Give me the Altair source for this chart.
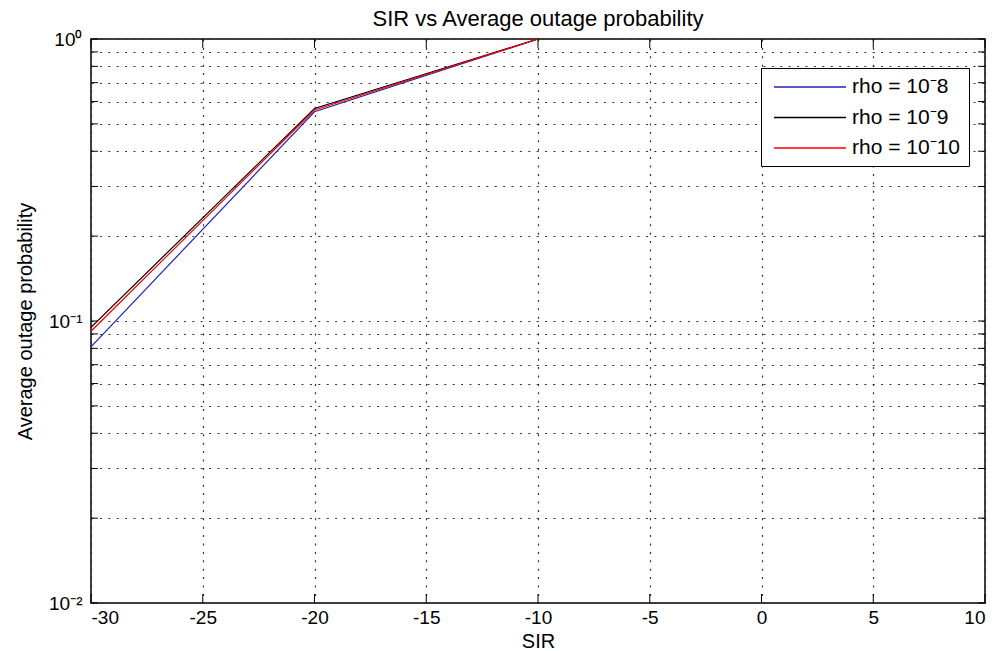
import altair as alt
import pandas as pd

# ---- data ----
sir = [-30, -20, -10]
p_rho8 = [0.081, 0.552, 1.0]
p_rho9 = [0.095, 0.567, 1.0]
p_rho10 = [0.092, 0.560, 1.0]
series_labels = ["rho = 10⁻8", "rho = 10⁻9", "rho = 10⁻10"]
series_colors = ["#2323b4", "#000000", "#ff0000"]

x_ticks = [-30, -25, -20, -15, -10, -5, 0, 5, 10]
y_ticks = [0.01, 0.02, 0.03, 0.04, 0.05, 0.06, 0.07, 0.08, 0.09,
           0.1, 0.2, 0.3, 0.4, 0.5, 0.6, 0.7, 0.8, 0.9, 1.0]
y_major = [0.01, 0.1, 1.0]
y_major_labels = ["10⁻²", "10⁻¹", "10⁰"]

FONT = "Liberation Sans"
W, H = 894, 564

rows = []
for lab, vals in zip(series_labels, [p_rho8, p_rho9, p_rho10]):
    for xv, yv in zip(sir, vals):
        rows.append({"series": lab, "SIR": xv, "P": yv})
df = pd.DataFrame(rows)

y_expr = " : ".join(
    f"datum.value == {v} ? '{l}'" for v, l in zip(y_major, y_major_labels)
) + " : ''"

xscale = alt.Scale(domain=[-30, 10], nice=False, zero=False)
yscale = alt.Scale(type="log", domain=[0.01, 1], nice=False)

lines = alt.Chart(df).mark_line(strokeWidth=1.2, clip=True).encode(
    x=alt.X("SIR:Q", scale=xscale,
            axis=alt.Axis(values=x_ticks, labelExpr="'' + datum.value",
                          title="SIR", titlePadding=4, labelPadding=5)),
    y=alt.Y("P:Q", scale=yscale,
            axis=alt.Axis(values=y_ticks, labelExpr=y_expr, labelOverlap=False,
                          title="Average outage probability",
                          titlePadding=13, labelPadding=9)),
    color=alt.Color("series:N",
                    scale=alt.Scale(domain=series_labels, range=series_colors),
                    sort=series_labels,
                    legend=alt.Legend(title=None, orient="none",
                                      legendX=670, legendY=29,
                                      symbolType="M-0.6,0L6.6,0", symbolSize=400,
                                      symbolStrokeWidth=1.3,
                                      labelFont=FONT, labelFontSize=21,
                                      labelColor="black", labelOffset=61,
                                      rowPadding=9.5, padding=8,
                                      fillColor="white", strokeColor="black",
                                      labelLimit=300)),
    order=alt.Order("SIR:Q"),
)

xt = pd.DataFrame({"v": x_ticks})
yt = pd.DataFrame({"v": y_ticks})

tick_bottom = alt.Chart(xt).mark_rule(color="black", strokeWidth=1).encode(
    x=alt.X("v:Q", scale=xscale), y=alt.value(H), y2=alt.value(H - 9))
tick_top = alt.Chart(xt).mark_rule(color="black", strokeWidth=1).encode(
    x=alt.X("v:Q", scale=xscale), y=alt.value(0), y2=alt.value(9))
tick_left = alt.Chart(yt).mark_rule(color="black", strokeWidth=1).encode(
    y=alt.Y("v:Q", scale=yscale), x=alt.value(0), x2=alt.value(7))
tick_right = alt.Chart(yt).mark_rule(color="black", strokeWidth=1).encode(
    y=alt.Y("v:Q", scale=yscale), x=alt.value(W), x2=alt.value(W - 7))

chart = alt.layer(lines, tick_bottom, tick_top, tick_left, tick_right).properties(
    width=W, height=H,
    background="white",
    title=alt.TitleParams("SIR vs Average outage probability", font=FONT,
                          fontSize=22, fontWeight="normal", color="black",
                          offset=7, dy=8, frame="group"),
    autosize=alt.AutoSizeParams(type="none"),
    padding={"left": 91, "top": 39, "right": 14, "bottom": 48},
).configure_view(
    stroke="black", strokeWidth=1.5, fill="white"
).configure_axis(
    grid=True, gridDash=[2, 6.4], gridColor="#333333", gridWidth=1.2, gridOpacity=1,
    domain=False, ticks=False,
    labelFont=FONT, labelFontSize=19, labelColor="black",
    titleFont=FONT, titleFontSize=20, titleFontWeight="normal", titleColor="black",
)

chart.save("out.html", embed_options={"renderer": "svg", "actions": False})
